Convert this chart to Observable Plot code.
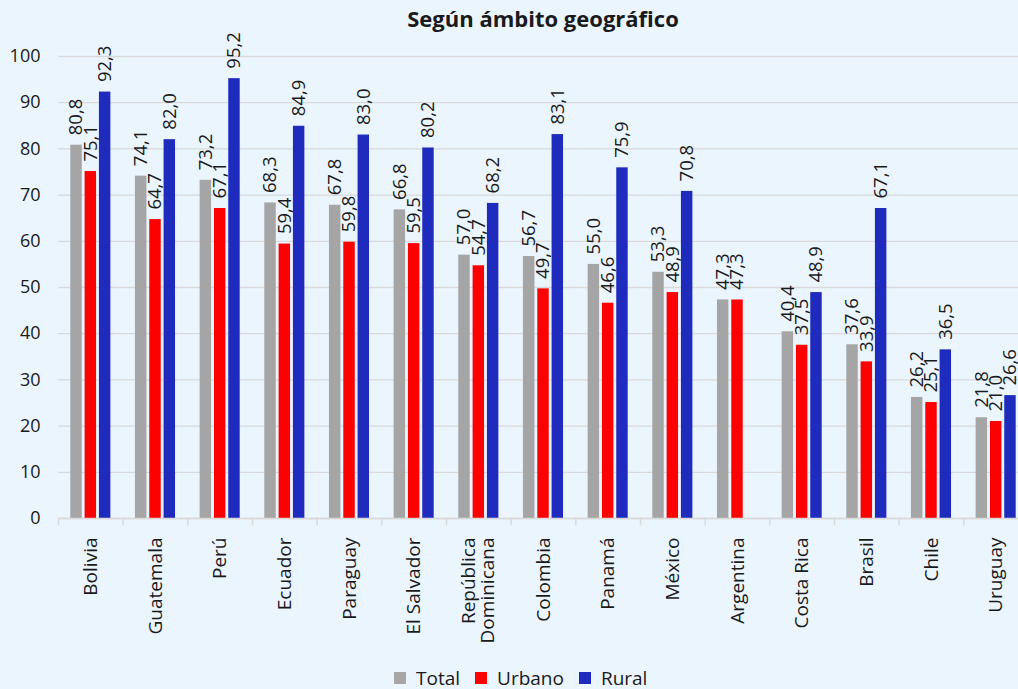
<!DOCTYPE html>
<html>
<head>
<meta charset="utf-8">
<script src="https://cdn.jsdelivr.net/npm/d3@7"></script>
<script src="https://cdn.jsdelivr.net/npm/@observablehq/plot@0.6"></script>
<style>
  html, body { margin: 0; padding: 0; width: 1018px; height: 689px; overflow: hidden; background: #ebf5fe; font-family: "Open Sans", "Noto Sans", sans-serif; color: #1a1a1a; }
  #wrap { position: relative; width: 1018px; height: 689px; }
  #title { position: absolute; left: 0; top: 4px; width: 1086px; text-align: center; font-weight: bold; font-size: 22px; line-height: 28px; }
  #chart { position: absolute; left: 0; top: 36px; }
  #chart svg { max-width: none; }
  #legend { position: absolute; left: 394px; top: 665px; display: flex; align-items: center; font-size: 19px; line-height: 26px; }
  #legend .sw { width: 12px; height: 12px; display: inline-block; margin-right: 10px; }
  #legend .it { display: flex; align-items: center; margin-right: 15px; }
</style>
</head>
<body>
<div id="wrap">
  <div id="title">Según ámbito geográfico</div>
  <div id="chart"></div>
  <div id="legend"></div>
</div>
<script>
const countries = ["Bolivia","Guatemala","Perú","Ecuador","Paraguay","El Salvador","República\nDominicana","Colombia","Panamá","México","Argentina","Costa Rica","Brasil","Chile","Uruguay"];
const total  = [80.8,74.1,73.2,68.3,67.8,66.8,57.0,56.7,55.0,53.3,47.3,40.4,37.6,26.2,21.8];
const urbano = [75.1,64.7,67.1,59.4,59.8,59.5,54.7,49.7,46.6,48.9,47.3,37.5,33.9,25.1,21.0];
const rural  = [92.3,82.0,95.2,84.9,83.0,80.2,68.2,83.1,75.9,70.8,null,48.9,67.1,36.5,26.6];
const seriesNames = ["Total","Urbano","Rural"];
const seriesColors = ["#a5a5a5","#ff0000","#1f2bbd"];
const yTicks = [0,10,20,30,40,50,60,70,80,90,100];

const rows = [];
countries.forEach((c, i) => {
  [total, urbano, rural].forEach((arr, j) => {
    if (arr[i] != null) rows.push({country: c, series: seriesNames[j], value: arr[i]});
  });
});
const fmt = v => v.toFixed(1).replace(".", ",");

const plot = Plot.plot({
  width: 1086,
  height: 612,
  marginLeft: 58,
  marginRight: 58,
  marginTop: 20,
  marginBottom: 130,
  style: {background: "transparent", fontFamily: "'Open Sans', 'Noto Sans', sans-serif", fontSize: "18px", color: "#1a1a1a", overflow: "visible", maxWidth: "none"},
  fx: {domain: countries, padding: 0, round: false, label: null},
  x: {domain: seriesNames, paddingInner: 0.2, paddingOuter: 0.86, round: false, axis: null},
  y: {domain: [0, 100], ticks: yTicks, label: null},
  color: {domain: seriesNames, range: seriesColors},
  marks: [
    Plot.gridY(yTicks, {stroke: "#d9d9d9", strokeOpacity: 1, strokeWidth: 1.3}),
    Plot.axisY(yTicks, {tickSize: 0, tickPadding: 18, fontSize: 18, label: null}),
    Plot.barY(rows, {fx: "country", x: "series", y: "value", fill: "series"}),
    Plot.ruleY([0], {stroke: "#d9d9d9", strokeWidth: 1.5}),
    Plot.frame({anchor: "left", stroke: "#d9d9d9", strokeWidth: 1.5, insetTop: 462, insetBottom: -6}),
    Plot.text(rows, {fx: "country", x: "series", y: "value", text: d => fmt(d.value), rotate: -90, textAnchor: "start", dy: -10, fontSize: 18.5, fill: "#1a1a1a"}),
    Plot.axisFx({anchor: "bottom", tickSize: 0, tickPadding: 19, tickRotate: -90, fontSize: 19, label: null})
  ]
});
document.getElementById("chart").appendChild(plot);

const legend = document.getElementById("legend");
seriesNames.forEach((s, i) => {
  const it = document.createElement("div");
  it.className = "it";
  const sw = document.createElement("span");
  sw.className = "sw";
  sw.style.background = seriesColors[i];
  it.appendChild(sw);
  it.appendChild(document.createTextNode(s));
  legend.appendChild(it);
});
</script>
</body>
</html>
